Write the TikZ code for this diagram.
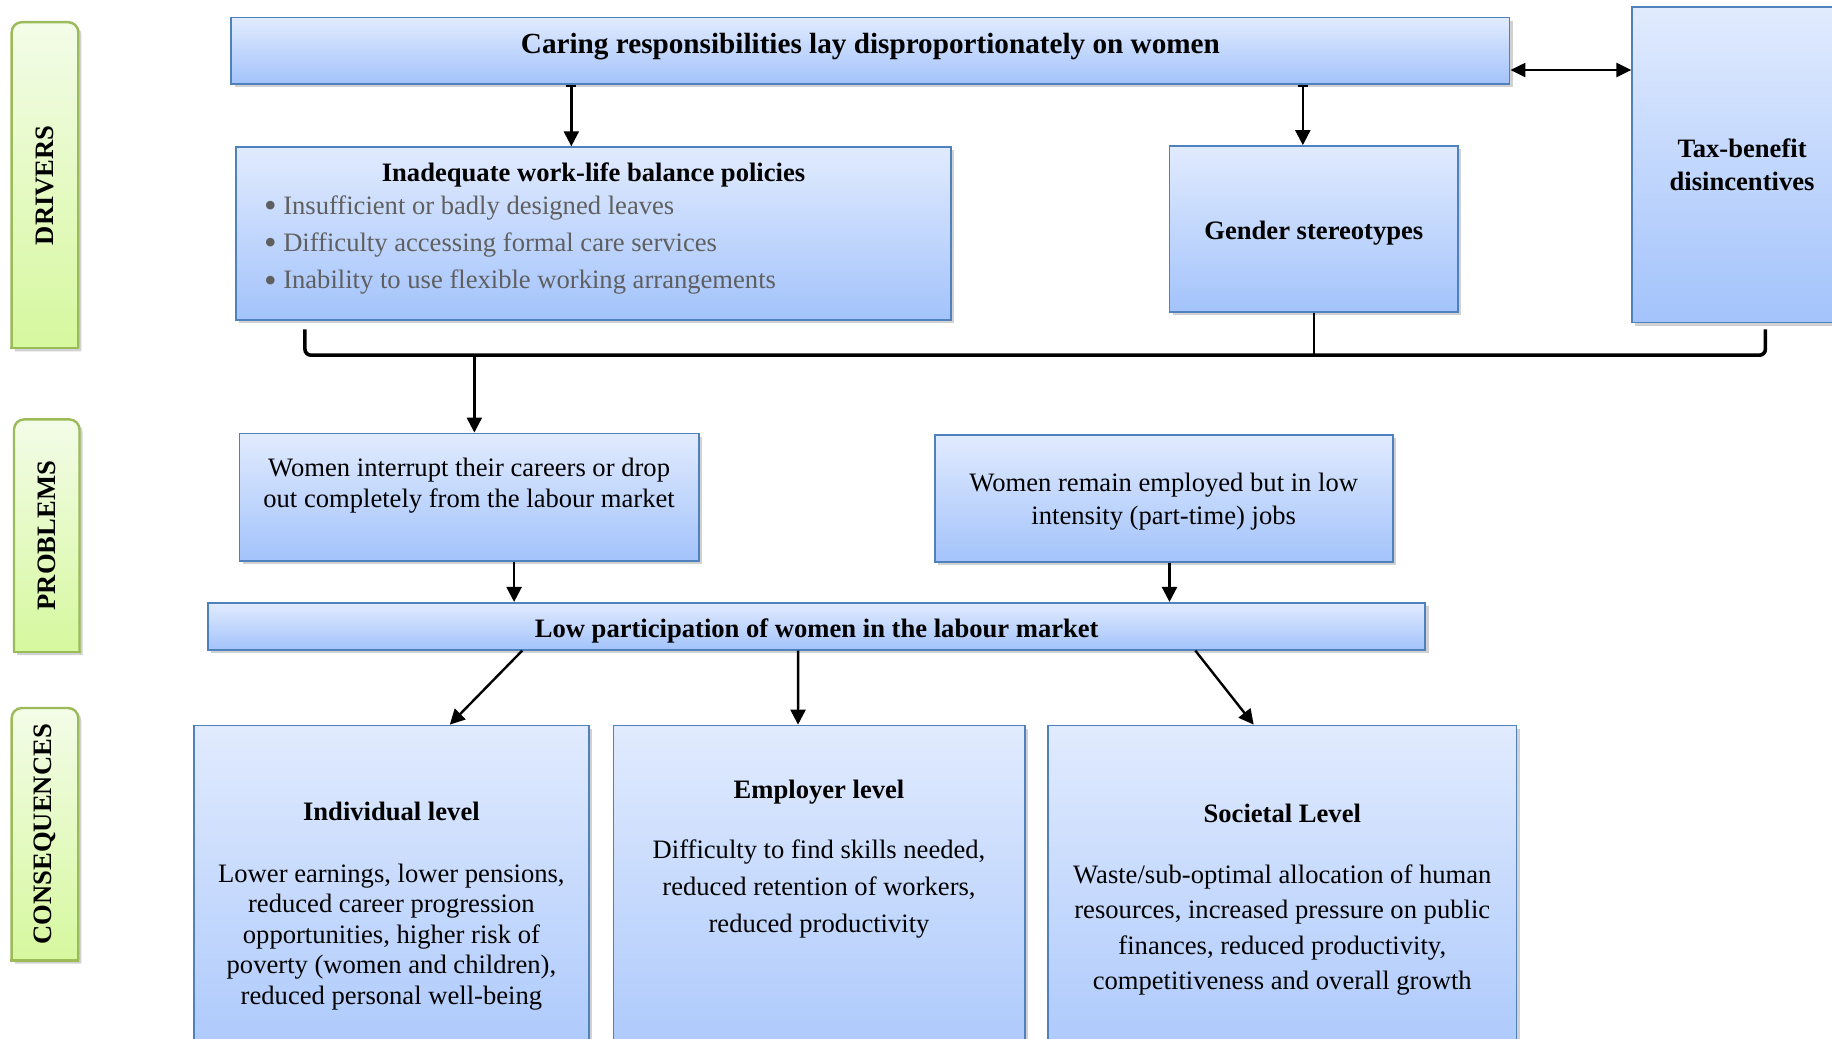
\documentclass[tikz,border=0pt]{standalone}
\usepackage{fontspec}
\setmainfont{Liberation Serif}
\usepackage{tikz}
\usetikzlibrary{arrows.meta,positioning,calc,shadows}
\definecolor{boxtop}{RGB}{225,235,254}
\definecolor{boxbot}{RGB}{163,195,251}
\definecolor{boxline}{RGB}{79,129,189}
\definecolor{lanetop}{RGB}{243,252,232}
\definecolor{lanebot}{RGB}{214,248,158}
\definecolor{laneline}{RGB}{155,187,89}
\definecolor{bulletgray}{RGB}{95,95,95}

\tikzset{
  bodyfont/.style={font=\fontsize{13.3}{15.3}\selectfont},
  boldfont/.style={font=\fontsize{13.3}{15.3}\selectfont\bfseries},
  causebox/.style={draw=boxline, line width=0.9pt, top color=boxtop, bottom color=boxbot,
    inner sep=0pt, align=center,
    drop shadow={shadow xshift=1.6pt, shadow yshift=-1.6pt, fill=black, opacity=0.18}},
  lanefill/.style={draw=laneline, line width=1.2pt, top color=lanetop, bottom color=lanebot,
    rounded corners=5pt,
    drop shadow={shadow xshift=1.6pt, shadow yshift=-1.6pt, fill=black, opacity=0.18}},
  lanelbl/.style={boldfont, inner sep=0pt, rotate=90},
  arr/.style={-{Triangle[length=7.5pt,width=7.5pt]}, line width=1.2pt},
  tarr/.style={{Bar[width=5pt]}-{Triangle[length=7.5pt,width=7.5pt]}, line width=1.2pt},
  dblarr/.style={{Triangle[length=7.5pt,width=7pt]}-{Triangle[length=7.5pt,width=7pt]}, line width=1.2pt},
  bracket/.style={line width=1.8pt, rounded corners=3pt},
  joinline/.style={line width=1.2pt}
}
\newcommand{\gbullet}{\raisebox{-1.6pt}{\scalebox{1.35}{\textbullet}}\ }

\begin{document}
\begin{tikzpicture}[x=0.5842pt, y=-0.5842pt]
    \useasboundingbox (0,0) rectangle (1568,889);
    \clip (0,0) rectangle (1568,889);

    % side labels
    \shade[lanefill] (10,298) -- (10,19) -- (67,19) -- (67,298);
    \draw[laneline, line width=1.2pt, line cap=rect] (10,298) -- (67,298);
    \node[lanelbl] (drv) at (38.5,158.5) {DRIVERS};

    \shade[lanefill] (12,558) -- (12,359) -- (68,359) -- (68,558);
    \draw[laneline, line width=1.2pt, line cap=rect] (12,558) -- (68,558);
    \node[lanelbl] (prb) at (40,458.5) {PROBLEMS};

    \shade[lanefill] (10,822) -- (10,606) -- (67,606) -- (67,822);
    \draw[laneline, line width=1.2pt, line cap=rect] (10,822) -- (67,822);
    \node[lanelbl] (csq) at (38.5,714) {CONSEQUENCES};

    % drivers
    \node[causebox, font=\fontsize{14.6}{17}\selectfont\bfseries, minimum width=639.1pt,
      minimum height=33.3pt, text height=17.9pt, text depth=15.4pt] (care) at (745,43.5)
      {Caring responsibilities lay disproportionately on women};

    \node[causebox, boldfont, minimum width=109.8pt, minimum height=157.7pt] (tax) at (1491,141)
      {Tax-benefit\\[1.6pt]disincentives};

    \node[causebox, bodyfont, minimum width=357.5pt, minimum height=86.5pt] (wlb) at (508,200)
      {\parbox[c][86.5pt][t]{329.5pt}{\vspace*{7.7pt}\centering
        \textbf{Inadequate work-life balance policies}\par\vspace{1.1pt}
        \raggedright\color{bulletgray}
        \gbullet Insufficient or badly designed leaves\\[3.4pt]
        \gbullet Difficulty accessing formal care services\\[3.4pt]
        \gbullet Inability to use flexible working arrangements}};

    \node[causebox, boldfont, minimum width=144.3pt, minimum height=83pt,
      text height=11.5pt, text depth=0.5pt] (gend) at (1124.5,196)
      {Gender stereotypes};

    % problems
    \node[causebox, bodyfont, minimum width=229.6pt, minimum height=63.7pt] (intr) at (401.5,425.5)
      {\parbox[c][63.7pt][t]{225pt}{\centering\vspace*{12.3pt}%
        Women interrupt their careers or drop\\ out completely from the labour market}};

    \node[causebox, bodyfont, minimum width=229pt, minimum height=63.7pt] (remn) at (996,426.5)
      {\parbox[c][63.7pt][t]{225pt}{\centering\vspace*{19.4pt}%
        Women remain employed but in low\\[1.1pt] intensity (part-time) jobs}};

    \node[causebox, boldfont, minimum width=608.7pt, minimum height=23.4pt,
      text height=11.5pt, text depth=0.5pt] (low) at (699,536)
      {Low participation of women in the labour market};

    % consequences
    \node[causebox, bodyfont, minimum width=197.5pt, minimum height=192.8pt] (indv) at (335,786)
      {\parbox[c][192.8pt][t]{190pt}{\centering\vspace*{38pt}%
        \textbf{Individual level}\par\vspace{15.7pt}
        Lower earnings, lower pensions,\\ reduced career progression\\
        opportunities, higher risk of\\ poverty (women and children),\\
        reduced personal well-being}};

    \node[causebox, bodyfont, minimum width=205.6pt, minimum height=192.8pt] (empl) at (701,786)
      {\parbox[c][192.8pt][t]{200pt}{\centering\vspace*{27pt}%
        \textbf{Employer level}\par\vspace{15.1pt}
        Difficulty to find skills needed,\\[3.1pt] reduced retention of workers,\\[3.1pt]
        reduced productivity}};

    \node[causebox, bodyfont, minimum width=234.3pt, minimum height=192.8pt] (soct) at (1097.5,786)
      {\parbox[c][192.8pt][t]{230pt}{\centering\vspace*{39.2pt}%
        \textbf{Societal Level}\par\vspace{15.1pt}
        Waste/sub-optimal allocation of human\\[2.4pt] resources, increased pressure on public\\[2.4pt]
        finances, reduced productivity,\\[2.4pt] competitiveness and overall growth}};

    % connectors
    \coordinate (wlbin) at ([xshift=-11.1pt]wlb.north);
    \coordinate (gendin) at ([xshift=-5.5pt]gend.north);
    \draw[tarr] (care.south -| wlbin) -- (wlbin);
    \draw[tarr] (care.south -| gendin) -- (gendin);
    \coordinate (taxlink) at ([yshift=-9.6pt]care.east);
    \draw[dblarr] (taxlink) -- (taxlink -| tax.west);

    \coordinate (brl) at (261,282);
    \coordinate (brr) at (1511,282);
    \coordinate (brm) at (406,304);
    \draw[bracket] (brl) -- (brl |- brm) -- (brr |- brm) -- (brr);
    \draw[joinline] (gend.south) -- (gend.south |- brm);
    \draw[arr] (brm) -- (brm |- intr.north);

    \coordinate (introut) at ([xshift=22.5pt]intr.south);
    \coordinate (remnout) at ([xshift=2.9pt]remn.south);
    \draw[arr] (introut) -- (introut |- low.north);
    \draw[arr] (remnout) -- (remnout |- low.north);

    \draw[arr] ([xshift=-147.2pt]low.south) -- ([xshift=29.2pt]indv.north);
    \draw[arr] ([xshift=-9.3pt]low.south) -- ([xshift=-10.5pt]empl.north);
    \draw[arr] ([xshift=189.3pt]low.south) -- ([xshift=-14.3pt]soct.north);
\end{tikzpicture}
\end{document}
